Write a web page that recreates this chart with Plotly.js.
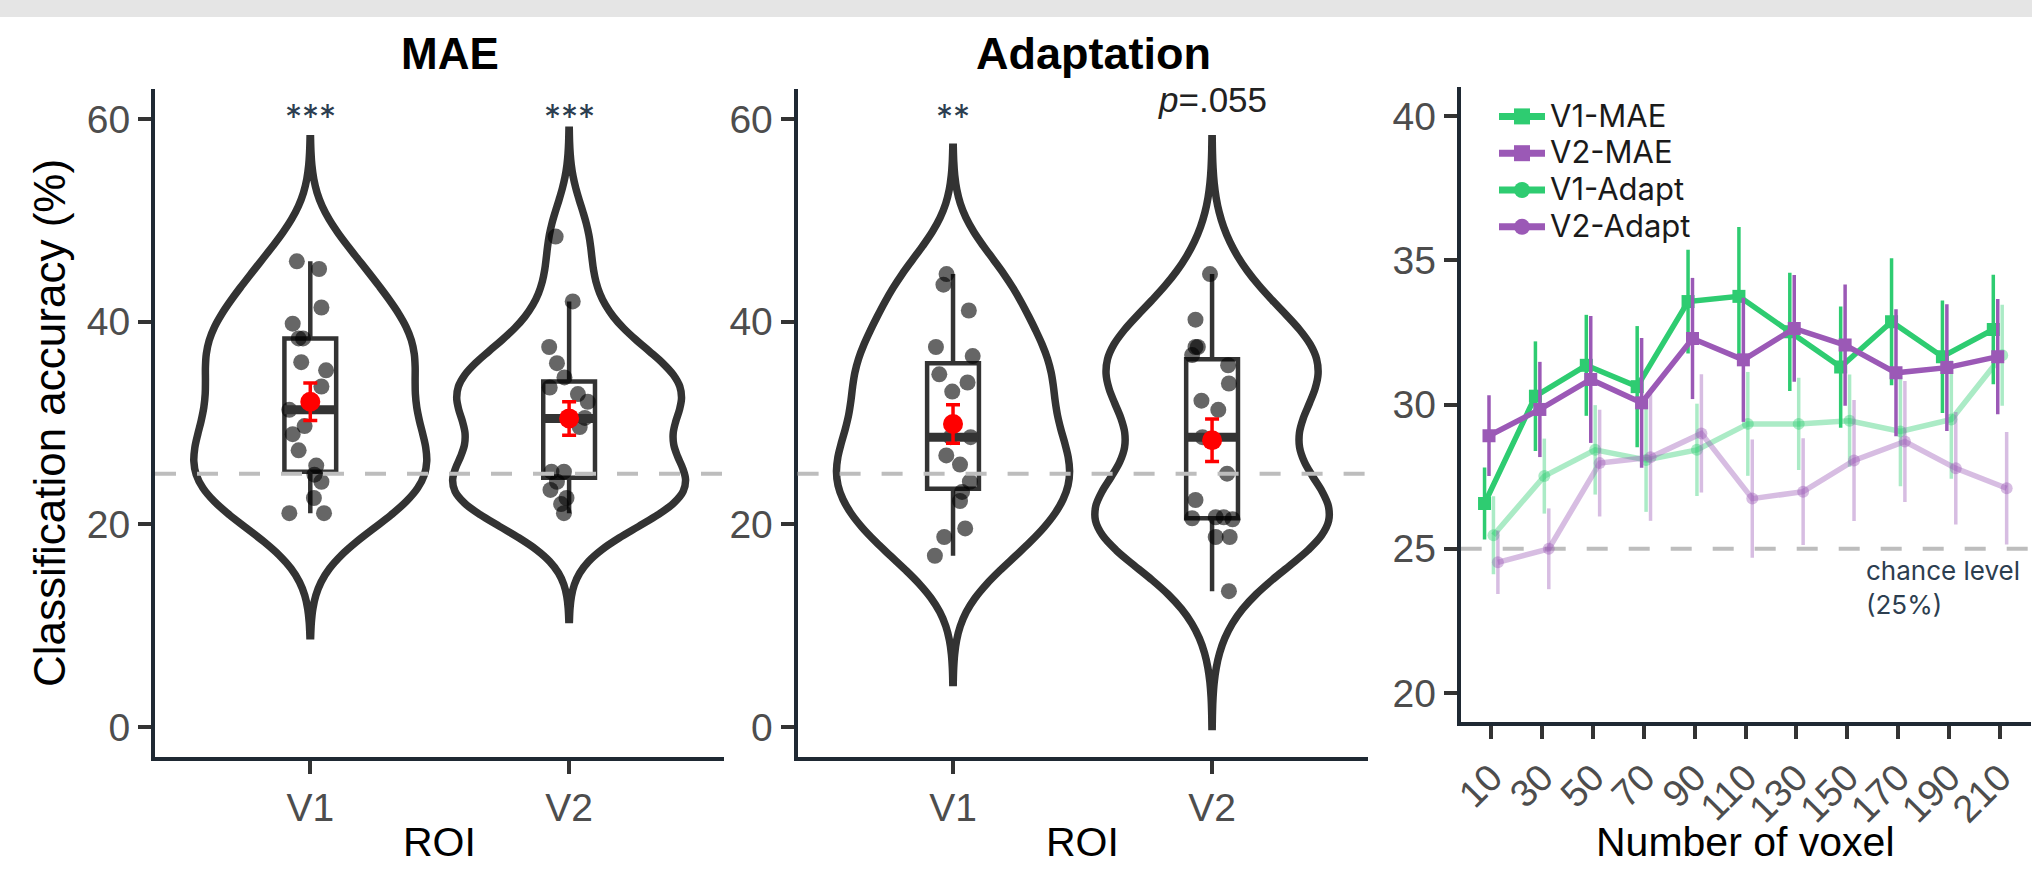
<!DOCTYPE html>
<html>
<head>
<meta charset="utf-8">
<script src="https://cdn.plot.ly/plotly-3.0.1.min.js"></script>
<style>
html,body{margin:0;padding:0;background:#ffffff;overflow:hidden}
#chart{width:2032px;height:869px}
</style>
</head>
<body>
<div id="chart"></div>
<script>
// ---------------- DATA ----------------
const roiLabels = ['V1', 'V2'];

// MAE panel: individual accuracies (%) and their horizontal jitter (category units)
const maeV1 = [45.95, 45.2, 41.4, 39.8, 38.35, 38.35, 36.0, 35.2, 33.6, 31.3, 29.7, 28.9, 27.3, 25.8, 24.9, 24.2, 22.6, 21.1, 21.1];
const maeV1Jitter = [-0.052, 0.034, 0.043, -0.068, -0.045, -0.028, -0.035, 0.061, 0.043, -0.081, -0.022, -0.068, -0.045, 0.023, 0.016, 0.043, 0.014, -0.081, 0.053];
const maeV2 = [48.4, 42.0, 37.5, 35.9, 34.5, 33.5, 32.85, 32.1, 30.5, 29.6, 25.2, 25.2, 24.2, 23.4, 22.6, 22.0, 21.1];
const maeV2Jitter = [-0.052, 0.014, -0.077, -0.047, -0.018, -0.075, 0.034, 0.072, 0.061, 0.041, -0.068, -0.02, -0.047, -0.072, -0.01, -0.031, -0.02];

// Adaptation panel
const adaptV1 = [44.7, 43.65, 41.1, 37.5, 36.6, 34.8, 34.0, 33.1, 28.6, 28.6, 26.8, 25.9, 24.2, 23.2, 22.3, 19.6, 18.75, 16.9];
const adaptV1Jitter = [-0.025, -0.037, 0.061, -0.066, 0.076, -0.053, 0.056, -0.003, -0.009, 0.068, -0.026, 0.027, 0.065, 0.035, 0.027, 0.047, -0.034, -0.07];
const adaptV2 = [44.7, 40.2, 37.5, 37.5, 36.7, 35.7, 33.9, 32.2, 31.3, 28.6, 25.0, 22.4, 20.6, 20.7, 20.7, 20.5, 18.75, 18.75, 13.4];
const adaptV2Jitter = [-0.008, -0.064, -0.064, -0.055, -0.077, 0.062, 0.065, -0.041, 0.024, -0.037, 0.058, -0.064, -0.077, 0.014, 0.045, 0.079, 0.014, 0.068, 0.065];

// box statistics (per ROI)
const maeQ1 = [25.2, 24.6], maeMedian = [31.3, 30.45], maeQ3 = [38.35, 34.1], maeLower = [21.1, 21.1], maeUpper = [45.95, 42.0];
const adaptQ1 = [23.5, 20.6], adaptMedian = [28.6, 28.6], adaptQ3 = [35.9, 36.3], adaptLower = [16.9, 13.4], adaptUpper = [44.7, 44.7];

// group mean and standard error (red points)
const maeMean = [32.1, 30.45], maeSE = [1.85, 1.65];
const adaptMean = [29.9, 28.3], adaptSE = [1.9, 2.1];

// violin kernel bandwidths
const maeBandwidth = [4.03, 3.5];
const adaptBandwidth = [4.17, 4.45];

// significance labels
const maeSig = ['***', '***'];
const adaptSig = ['**', '<i>p</i>=.055'];

const chanceLevel = 25;

// Voxel panel
const voxelCounts = [10, 30, 50, 70, 90, 110, 130, 150, 170, 190, 210];
const v1MAE      = [26.57, 30.29, 31.36, 30.62, 33.57, 33.75, 32.52, 31.30, 32.87, 31.66, 32.60];
const v1MAEErr   = [1.25, 1.9, 1.75, 2.1, 1.8, 2.4, 2.05, 2.1, 2.2, 1.95, 1.9];
const v2MAE      = [28.92, 29.83, 30.87, 30.06, 32.29, 31.55, 32.64, 32.06, 31.10, 31.28, 31.66];
const v2MAEErr   = [1.4, 1.65, 2.2, 2.25, 2.1, 2.15, 1.85, 2.1, 2.2, 2.2, 2.0];
const v1Adapt    = [25.47, 27.52, 28.43, 28.08, 28.43, 29.33, 29.33, 29.44, 29.07, 29.48, 31.71];
const v1AdaptErr = [1.35, 1.3, 1.55, 1.8, 1.6, 1.8, 1.6, 1.6, 1.9, 2.05, 1.75];
const v2Adapt    = [24.53, 25.0, 27.97, 28.17, 29.0, 26.74, 26.98, 28.06, 28.72, 27.79, 27.10];
const v2AdaptErr = [1.1, 1.4, 1.85, 2.2, 2.05, 2.05, 1.85, 2.1, 2.1, 1.95, 1.95];
const seriesNames = ['V1-MAE', 'V2-MAE', 'V1-Adapt', 'V2-Adapt'];

// axis titles
const xTitleROI = 'ROI', xTitleVoxel = 'Number of voxel', yTitleAcc = 'Classification accuracy (%)';

// ---------------- STYLE ----------------
const W = 2032, H = 869;
const GREEN = '#2ecc71', PURPLE = '#9b59b6';
const GREEN_L = 'rgba(46,204,113,0.4)', PURPLE_L = 'rgba(155,89,182,0.4)';
const DARK = '#333333';
const AXIS = '#1f2933';
const TICKC = '#4d4d4d';
const FONT = 'Liberation Sans, Arial, sans-serif';
const FONT2 = 'Inter, Roboto, sans-serif';
const boxWidth = 0.2, violinWidth = 0.9;
const dodge = [-2.625, -0.875, 0.875, 2.625];

const px = v => v / W;
const py = v => 1 - v / H;

const traces = [];

function addGroup(values, jitter, pos, bw, q1, med, q3, lo, hi, mean, se, xa, ya, group) {
  const mn = Math.min(...values), mx = Math.max(...values);
  traces.push({
    type: 'violin', x0: pos, y: values, xaxis: xa, yaxis: ya,
    bandwidth: bw, spanmode: 'manual', span: [mn - 3 * bw, mx + 3 * bw],
    scalemode: 'width', scalegroup: group, width: violinWidth, side: 'both',
    points: false, box: {visible: false}, meanline: {visible: false},
    line: {color: DARK, width: 7.5}, fillcolor: 'rgba(0,0,0,0)',
    showlegend: false, hoverinfo: 'skip'
  });
  traces.push({
    type: 'box', x: [pos], q1: [q1], median: [med], q3: [q3], lowerfence: [lo], upperfence: [hi],
    xaxis: xa, yaxis: ya, width: boxWidth, whiskerwidth: 0,
    line: {color: DARK, width: 4.5}, fillcolor: 'rgba(0,0,0,0)',
    showlegend: false, hoverinfo: 'skip'
  });
  traces.push({
    type: 'scatter', mode: 'markers', xaxis: xa, yaxis: ya,
    x: jitter.map(j => pos + j), y: values,
    marker: {size: 16, color: 'rgba(0,0,0,0.6)', line: {width: 0}},
    showlegend: false, hoverinfo: 'y'
  });
  traces.push({
    type: 'scatter', mode: 'lines', xaxis: xa, yaxis: ya,
    x: [pos - boxWidth / 2, pos + boxWidth / 2], y: [med, med],
    line: {color: DARK, width: 9}, showlegend: false, hoverinfo: 'skip'
  });
  traces.push({
    type: 'scatter', mode: 'markers', xaxis: xa, yaxis: ya,
    x: [pos], y: [mean],
    error_y: {type: 'data', array: [se], color: '#ff0000', thickness: 3.5, width: 7},
    marker: {size: 20, color: '#ff0000'},
    showlegend: false, hoverinfo: 'y'
  });
}

const maeVals = [maeV1, maeV2], maeJit = [maeV1Jitter, maeV2Jitter];
const adVals = [adaptV1, adaptV2], adJit = [adaptV1Jitter, adaptV2Jitter];
for (let i = 0; i < 2; i++) {
  addGroup(maeVals[i], maeJit[i], i, maeBandwidth[i], maeQ1[i], maeMedian[i], maeQ3[i], maeLower[i], maeUpper[i], maeMean[i], maeSE[i], 'x', 'y', 'mae');
}
for (let i = 0; i < 2; i++) {
  addGroup(adVals[i], adJit[i], i, adaptBandwidth[i], adaptQ1[i], adaptMedian[i], adaptQ3[i], adaptLower[i], adaptUpper[i], adaptMean[i], adaptSE[i], 'x2', 'y2', 'adapt');
}

// voxel panel: faded adaptation series first, MAE series on top
const series = [
  {y: v1Adapt, e: v1AdaptErr, c: GREEN_L, sym: 'circle', size: 12, d: dodge[2]},
  {y: v2Adapt, e: v2AdaptErr, c: PURPLE_L, sym: 'circle', size: 12, d: dodge[3]},
  {y: v1MAE, e: v1MAEErr, c: GREEN, sym: 'square', size: 13, d: dodge[0]},
  {y: v2MAE, e: v2MAEErr, c: PURPLE, sym: 'square', size: 13, d: dodge[1]}
];
series.forEach(s => {
  traces.push({
    type: 'scatter', mode: 'lines+markers', xaxis: 'x3', yaxis: 'y3',
    x: voxelCounts.map(v => v + s.d), y: s.y,
    error_y: {type: 'data', array: s.e, color: s.c, thickness: 3.5, width: 0},
    line: {color: s.c, width: 5.5}, marker: {symbol: s.sym, size: s.size, color: s.c},
    showlegend: false
  });
});
// legend entries (full colour keys)
const legendStyle = [[GREEN, 'square'], [PURPLE, 'square'], [GREEN, 'circle'], [PURPLE, 'circle']];
seriesNames.forEach((n, i) => {
  traces.push({
    type: 'scatter', mode: 'lines+markers', xaxis: 'x3', yaxis: 'y3',
    x: [null], y: [null], name: '<span style="font-size:31px">' + n + '</span>',
    line: {color: legendStyle[i][0], width: 7},
    marker: {symbol: legendStyle[i][1], size: 16, color: legendStyle[i][0]},
    showlegend: true
  });
});

// ---------------- LAYOUT ----------------
const yTop12 = 88.6, yBot12 = 757.4, yTop3 = 87.2, yBot3 = 721.9;
const axisBase = {
  showline: true, linecolor: AXIS, linewidth: 4, mirror: false,
  ticks: 'outside', ticklen: 13, tickwidth: 4, tickcolor: DARK,
  tickfont: {family: FONT, size: 39, color: TICKC},
  showgrid: false, zeroline: false, fixedrange: true
};
const catAxis = (dom, anchor) => Object.assign({}, axisBase, {
  domain: dom, anchor: anchor, range: [-0.6, 1.6],
  tickvals: [0, 1], ticktext: roiLabels, ticklabelstandoff: 0
});
const accAxis = (dom, anchor, title) => Object.assign({}, axisBase, {
  domain: dom, anchor: anchor, range: [-3, 63],
  tickvals: [0, 20, 40, 60], ticklabelstandoff: 0,
  title: {text: title, font: {family: FONT, size: 44, color: '#000'}, standoff: 8}
});

const titleFont = {family: FONT, size: 41, color: '#000'};
const layout = {
  width: W, height: H,
  margin: {l: 0, r: 0, t: 0, b: 0},
  paper_bgcolor: '#ffffff', plot_bgcolor: 'rgba(0,0,0,0)',
  showlegend: true,
  violinmode: 'overlay', boxmode: 'overlay',
  xaxis: catAxis([px(155), px(724.4)], 'y'),
  yaxis: accAxis([py(yBot12), py(yTop12)], 'x', yTitleAcc),
  xaxis2: catAxis([px(797.6), px(1367.5)], 'y2'),
  yaxis2: accAxis([py(yBot12), py(yTop12)], 'x2', ''),
  xaxis3: Object.assign({}, axisBase, {
    domain: [px(1460.7), px(2030.5)], anchor: 'y3', range: [-2, 222],
    tickvals: voxelCounts, ticktext: voxelCounts.map(String), tickangle: -45,
    tickfont: {family: FONT, size: 38, color: TICKC}, ticklabelstandoff: 1
  }),
  yaxis3: Object.assign({}, axisBase, {
    domain: [py(yBot3), py(yTop3)], anchor: 'x3', range: [19, 41],
    tickvals: [20, 25, 30, 35, 40], ticklabelstandoff: 0
  }),
  legend: {
    x: px(1494), y: py(93), xanchor: 'left', yanchor: 'top',
    bgcolor: 'rgba(0,0,0,0)', borderwidth: 0,
    font: {family: FONT2, size: 26, color: '#1a1a1a'},
    itemsizing: 'trace', itemwidth: 46, tracegroupgap: 0
  },
  shapes: [
    {type: 'rect', xref: 'paper', yref: 'paper', x0: 0, x1: 1, y0: py(17), y1: 1,
     fillcolor: '#e5e5e5', line: {width: 0}, layer: 'below'},
    {type: 'line', xref: 'x domain', yref: 'y', x0: 0, x1: 1, y0: chanceLevel, y1: chanceLevel,
     line: {color: '#bdbdbd', width: 4, dash: '21px,21px'}, layer: 'above'},
    {type: 'line', xref: 'x2 domain', yref: 'y2', x0: 0, x1: 1, y0: chanceLevel, y1: chanceLevel,
     line: {color: '#bdbdbd', width: 4, dash: '21px,21px'}, layer: 'above'},
    {type: 'line', xref: 'x3 domain', yref: 'y3', x0: 0, x1: 1, y0: chanceLevel, y1: chanceLevel,
     line: {color: '#bdbdbd', width: 4, dash: '21px,21px'}, layer: 'below'}
  ],
  annotations: [
    {text: 'MAE', xref: 'paper', yref: 'paper', x: px(450), y: py(54), xanchor: 'center', yanchor: 'middle',
     showarrow: false, font: {family: FONT, size: 44, color: '#000', weight: 'bold'}},
    {text: 'Adaptation', xref: 'paper', yref: 'paper', x: px(1093), y: py(54), xanchor: 'center', yanchor: 'middle',
     showarrow: false, font: {family: FONT, size: 45, color: '#000', weight: 'bold'}},
    // x-axis titles
    {text: xTitleROI, xref: 'x domain', yref: 'paper', x: 0.5, y: py(867), xanchor: 'center', yanchor: 'bottom',
     showarrow: false, font: titleFont},
    {text: xTitleROI, xref: 'x2 domain', yref: 'paper', x: 0.5, y: py(867), xanchor: 'center', yanchor: 'bottom',
     showarrow: false, font: titleFont},
    {text: xTitleVoxel, xref: 'x3 domain', yref: 'paper', x: 0.5, y: py(867), xanchor: 'center', yanchor: 'bottom',
     showarrow: false, font: titleFont},
    {text: 'chance level<br>(25%)', xref: 'x3 domain', yref: 'y3', x: 0.708, y: chanceLevel,
     xanchor: 'left', yanchor: 'top', yshift: -4, align: 'left', showarrow: false,
     font: {family: FONT2, size: 26, color: '#2c3e50'}}
  ]
};
maeSig.forEach((s, i) => layout.annotations.push({
  text: s, xref: 'x', yref: 'y', x: i, y: 60.2, xanchor: 'center', yanchor: 'middle', showarrow: false,
  font: {family: FONT2, size: 34, color: '#2c3e50'}
}));
adaptSig.forEach((s, i) => layout.annotations.push({
  text: s, xref: 'x2', yref: 'y2', x: i, y: i === 0 ? 60.2 : 61.9, xanchor: 'center', yanchor: 'middle', showarrow: false,
  font: i === 0 ? {family: FONT2, size: 34, color: '#2c3e50'} : {family: FONT, size: 35, color: '#222222'}
}));

Plotly.newPlot('chart', traces, layout, {staticPlot: true, displayModeBar: false});
</script>
</body>
</html>
